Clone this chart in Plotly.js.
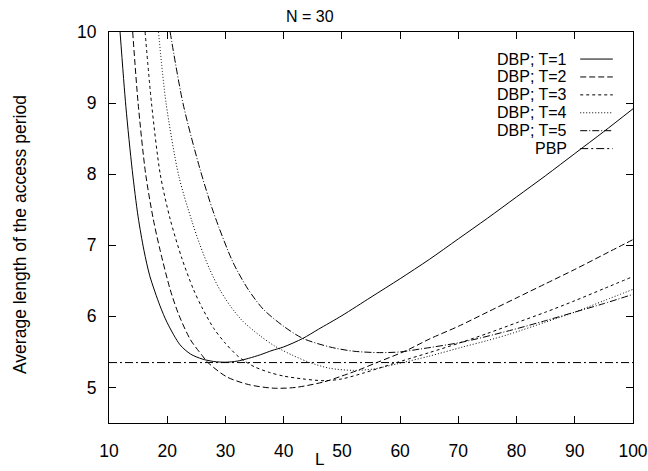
<!DOCTYPE html>
<html>
<head>
<meta charset="utf-8">
<script src="https://cdn.plot.ly/plotly-3.0.1.min.js"></script>
<style>html,body{margin:0;padding:0;background:#fff;}#chart{width:648px;height:471px;}</style>
</head>
<body>
<div id="chart"></div>
<script>
// ---- data ----
const seriesNames = ["DBP; T=1", "DBP; T=2", "DBP; T=3", "DBP; T=4", "DBP; T=5", "PBP"];

const T1_L = [11.9, 12.9, 14.0, 15, 16, 17, 18.75, 20, 22.2, 24, 26, 28, 30, 32, 34, 36, 38, 40, 43.3, 46, 50, 55, 60, 65, 70, 75, 80, 85, 90, 95, 100];
const T1_V = [10, 8.95, 8.05, 7.4, 6.93, 6.57, 6.15, 5.91, 5.6, 5.47, 5.4, 5.365, 5.355, 5.37, 5.41, 5.46, 5.52, 5.57, 5.69, 5.82, 6.01, 6.27, 6.53, 6.80, 7.09, 7.38, 7.68, 7.98, 8.29, 8.60, 8.92];

const T2_L = [14.07, 15.0, 16.3, 17.6, 18.75, 20.5, 22, 24, 26, 27, 30.2, 34, 38.2, 42, 47, 49.6, 53, 56, 61.1, 65, 70, 75, 80, 85, 90, 95, 100];
const T2_V = [10, 9, 8, 7.37, 6.94, 6.38, 6.02, 5.67, 5.45, 5.35, 5.15, 5.04, 4.99, 5.00, 5.08, 5.15, 5.25, 5.35, 5.52, 5.68, 5.86, 6.06, 6.26, 6.46, 6.66, 6.87, 7.08];

const T3_L = [16.2, 17.3, 18.8, 20.5, 22.5, 24.5, 26, 28, 30, 32, 33.3, 35, 37.6, 40, 43.3, 47, 50, 53.6, 59, 65, 70, 75, 80, 85, 90, 95, 100];
const T3_V = [10, 9, 8, 7.37, 6.82, 6.38, 6.12, 5.83, 5.62, 5.45, 5.37, 5.29, 5.21, 5.16, 5.12, 5.095, 5.12, 5.2, 5.34, 5.49, 5.62, 5.76, 5.91, 6.06, 6.22, 6.39, 6.56];

const T4_L = [18.5, 19.8, 22.0, 24.2, 25.6, 27.3, 29.0, 30.8, 33, 35.9, 38.5, 41.6, 44.5, 47.9, 52, 55.5, 59.4, 65, 70.8, 75, 78.8, 85, 90, 95, 100];
const T4_V = [10, 9, 7.97, 7.35, 7.01, 6.66, 6.38, 6.15, 5.93, 5.73, 5.58, 5.45, 5.35, 5.27, 5.24, 5.26, 5.33, 5.44, 5.57, 5.66, 5.75, 5.92, 6.06, 6.22, 6.38];

const T5_L = [20.5, 22.7, 25.6, 28, 31.3, 33.9, 36.5, 40, 43.3, 47.9, 52, 56.5, 60, 63.4, 70.8, 78.8, 85, 90, 95, 100];
const T5_V = [10, 9, 8.08, 7.45, 6.76, 6.38, 6.10, 5.86, 5.69, 5.57, 5.51, 5.49, 5.5, 5.54, 5.64, 5.80, 5.94, 6.06, 6.18, 6.31];

const PBP_L = [10, 100];
const PBP_V = [5.35, 5.35];

const xTicks = [10, 20, 30, 40, 50, 60, 70, 80, 90, 100];
const yTicks = [5, 6, 7, 8, 9, 10];

// ---- styling ----
const FONT = "'Liberation Sans', Arial, Helvetica, sans-serif";
const FS = 17.5;
const KEYFS = 16;
const dashes = ["solid", "6px,3px", "3px,3px", "1px,2px", "7px,2px,1px,2px", "8px,3px,2px,3px"];

const xs = [T1_L, T2_L, T3_L, T4_L, T5_L, PBP_L];
const ys = [T1_V, T2_V, T3_V, T4_V, T5_V, PBP_V];

const traces = seriesNames.map((n, i) => ({
  type: "scatter", mode: "lines", name: n,
  x: xs[i], y: ys[i],
  line: {color: "#000", width: 1, dash: dashes[i], shape: i === 5 ? "linear" : "spline", smoothing: 0.8},
  showlegend: false, hoverinfo: "skip"
}));

// custom gnuplot-style key: text right-aligned, sample to the right
const keyTextX = 0.8757, keySampleX0 = 0.8993, keySampleX1 = 0.9615;
const keyTop = 0.9308, keyStep = 0.0458;
const annotations = seriesNames.map((n, i) => ({
  xref: "paper", yref: "paper", x: keyTextX, y: keyTop - i * keyStep,
  xanchor: "right", yanchor: "middle", text: n, showarrow: false, borderpad: 0,
  font: {family: FONT, size: KEYFS, color: "#000"}
}));
const shapes = seriesNames.map((n, i) => ({
  type: "line", xref: "paper", yref: "paper",
  x0: keySampleX0, x1: keySampleX1, y0: keyTop - i * keyStep, y1: keyTop - i * keyStep,
  line: {color: "#000", width: 1, dash: dashes[i]}
}));

annotations.push({
  xref: "paper", yref: "paper", x: 0.402, y: -0.094, xanchor: "center", yanchor: "middle",
  text: "L", showarrow: false, borderpad: 0, font: {family: FONT, size: 17, color: "#000"}
});
annotations.push({
  xref: "paper", yref: "paper", x: -0.1697, y: 0.481, xanchor: "center", yanchor: "middle",
  textangle: -90, text: "Average length of the access period", showarrow: false,
  font: {family: FONT, size: FS, color: "#000"}
});

const axisCommon = {
  showgrid: false, zeroline: false, showline: true, linecolor: "#000", linewidth: 1,
  mirror: "ticks", ticks: "inside", ticklen: 7, tickwidth: 1, tickcolor: "#000",
  tickfont: {family: FONT, size: FS, color: "#000"}
};

const layout = {
  width: 648, height: 471,
  margin: {l: 109, r: 14.5, t: 32.3, b: 48.3, pad: 0},
  paper_bgcolor: "#fff", plot_bgcolor: "#fff",
  font: {family: FONT, size: FS, color: "#000"},
  title: {text: "N = 30", x: 0.478, xref: "container", xanchor: "center", y: 0.966, yref: "container", yanchor: "middle",
          font: {family: FONT, size: 16, color: "#000"}},
  xaxis: Object.assign({}, axisCommon, {range: [10, 100], tickvals: xTicks, ticktext: xTicks.map(String), ticklabelstandoff: 12}),
  yaxis: Object.assign({}, axisCommon, {range: [4.5, 10], tickvals: yTicks, ticktext: yTicks.map(String), ticklabelstandoff: 8}),
  annotations: annotations,
  shapes: shapes,
  showlegend: false
};

Plotly.newPlot("chart", traces, layout, {staticPlot: true, displayModeBar: false});
</script>
</body>
</html>
